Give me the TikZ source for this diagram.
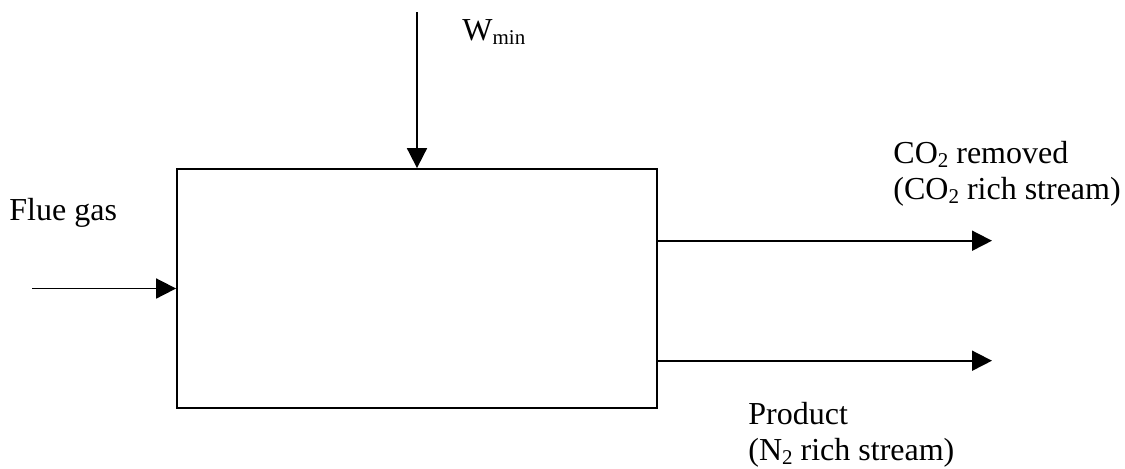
\documentclass[tikz,border=0pt]{standalone}
\usepackage{fontspec}
\setmainfont{Liberation Serif}
\usetikzlibrary{arrows.meta}
\newcommand{\lowidx}[1]{\raisebox{-0.14em}{\fontsize{10.5pt}{10.5pt}\selectfont #1}}
\tikzset{
  arr/.style={line width=0.9pt, -{Triangle[length=10pt,width=10pt]}},
  procbox/.style={draw, line width=0.9pt, minimum width=240pt, minimum height=119.5pt, inner sep=0pt},
  lbl/.style={anchor=base west, inner sep=0pt, font=\fontsize{16pt}{18pt}\selectfont}
}
\begin{document}
\begin{tikzpicture}[x=0.5pt, y=-0.5pt]
\useasboundingbox (0,0) rectangle (1125,468);
\node[procbox] (box) at (417,288.5) {};
\coordinate (wtop) at (417,12);
\coordinate (fin) at (32,288.5);
\coordinate (r1) at (992,240.7);
\coordinate (r2) at (992,360.7);
\draw[arr] (wtop) -- (box.north);
\draw[arr] (fin) -- (box.west);
\draw[arr] (box.east |- r1) -- (r1);
\draw[arr] (box.east |- r2) -- (r2);
\node[lbl] (wmin) at (462,40) {W\lowidx{min}};
\node[lbl] (flue) at (9,220) {Flue gas};
\node[lbl] (co2a) at (893,163) {CO\lowidx{2} removed};
\node[lbl] (co2b) at (893,199) {(CO\lowidx{2} rich stream)};
\node[lbl] (proda) at (748,424) {Product};
\node[lbl] (prodb) at (748,460) {(N\lowidx{2} rich stream)};
\end{tikzpicture}
\end{document}
